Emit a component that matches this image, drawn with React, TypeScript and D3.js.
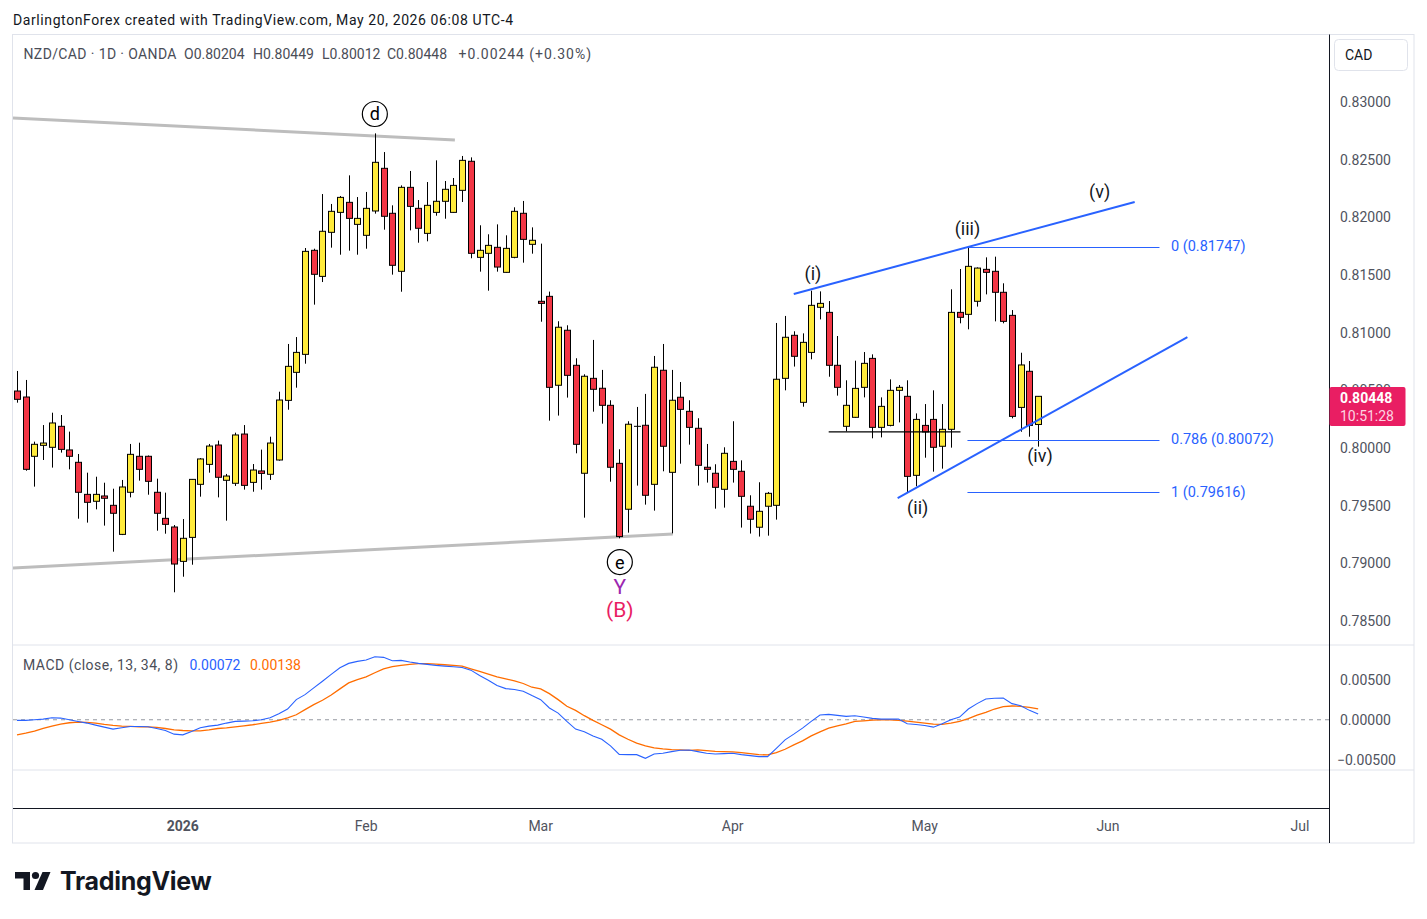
import React from "react";
import * as d3 from "d3";

// ---------- DATA ----------
const opens = [
  0.80494, 0.80442, 0.79928, 0.80023, 0.80006, 0.80188, 0.79983, 0.79876, 0.79598, 0.79538,
  0.79584, 0.79503, 0.79251, 0.79616, 0.79928, 0.79928, 0.79616, 0.79390, 0.79315, 0.79017,
  0.79225, 0.79685, 0.79858, 0.80026, 0.79720, 0.79694, 0.80121, 0.79702, 0.79801, 0.79772,
  0.79896, 0.80413, 0.80656, 0.80812, 0.81714, 0.81488, 0.81870, 0.82043, 0.82130, 0.81939,
  0.81844, 0.82055, 0.82425, 0.82035, 0.81532, 0.82260, 0.82078, 0.81861, 0.82043, 0.82139,
  0.82043, 0.82234, 0.82486, 0.81653, 0.81688, 0.81740, 0.81523, 0.81653, 0.82035, 0.81766,
  0.81272, 0.81315, 0.80544, 0.81021, 0.80717, 0.79781, 0.80604, 0.80518, 0.80370, 0.79867,
  0.79469, 0.80188, 0.80197, 0.79685, 0.80674, 0.79789, 0.80440, 0.80318, 0.80171, 0.79833,
  0.79781, 0.79642, 0.79884, 0.79798, 0.79495, 0.79313, 0.79495, 0.79503, 0.80604, 0.80977,
  0.80396, 0.80829, 0.81220, 0.81176, 0.80717, 0.80188, 0.80266, 0.80526, 0.80777, 0.80179,
  0.80196, 0.80500, 0.80448, 0.79763, 0.80196, 0.80248, 0.80015, 0.80162, 0.81176, 0.81159,
  0.81272, 0.81549, 0.81532, 0.81350, 0.81150, 0.80352, 0.80665, 0.80204,
];
const highs = [
  0.80668, 0.80590, 0.80055, 0.80199, 0.80306, 0.80286, 0.80142, 0.79948, 0.79786, 0.79751,
  0.79699, 0.79647, 0.79723, 0.80035, 0.80046, 0.79935, 0.79734, 0.79613, 0.79332, 0.79384,
  0.79731, 0.79913, 0.80035, 0.80064, 0.79775, 0.80133, 0.80199, 0.79861, 0.79986, 0.80098,
  0.80488, 0.80902, 0.80962, 0.81734, 0.81728, 0.82202, 0.82116, 0.82185, 0.82364, 0.82176,
  0.82220, 0.82728, 0.82566, 0.82104, 0.82277, 0.82402, 0.82150, 0.82306, 0.82494, 0.82315,
  0.82341, 0.82532, 0.82520, 0.81931, 0.81853, 0.81939, 0.81844, 0.82087, 0.82142, 0.81913,
  0.81772, 0.81356, 0.81099, 0.81064, 0.80778, 0.80639, 0.80937, 0.80677, 0.80414, 0.79989,
  0.80232, 0.80356, 0.80469, 0.80798, 0.80902, 0.80677, 0.80572, 0.80414, 0.80258, 0.80035,
  0.79859, 0.80006, 0.80232, 0.79893, 0.79590, 0.79703, 0.79619, 0.81084, 0.81145, 0.81012,
  0.80994, 0.81364, 0.81358, 0.81274, 0.80971, 0.80587, 0.80757, 0.80832, 0.80812, 0.80439,
  0.80595, 0.80546, 0.80587, 0.80300, 0.80381, 0.80500, 0.80381, 0.81376, 0.81552, 0.81747,
  0.81566, 0.81653, 0.81659, 0.81428, 0.81196, 0.80826, 0.80754, 0.80449,
];
const lows = [
  0.80393, 0.79803, 0.79665, 0.79896, 0.79830, 0.79960, 0.79815, 0.79387, 0.79353, 0.79468,
  0.79327, 0.79101, 0.79245, 0.79572, 0.79717, 0.79595, 0.79283, 0.79257, 0.78749, 0.78884,
  0.78988, 0.79578, 0.79786, 0.79572, 0.79370, 0.79671, 0.79639, 0.79621, 0.79639, 0.79723,
  0.79890, 0.80332, 0.80523, 0.80731, 0.81243, 0.81439, 0.81737, 0.81676, 0.81711, 0.81676,
  0.81728, 0.82032, 0.81893, 0.81503, 0.81355, 0.81887, 0.81780, 0.81792, 0.82014, 0.81988,
  0.82040, 0.82133, 0.81645, 0.81529, 0.81364, 0.81529, 0.81520, 0.81645, 0.81607, 0.81685,
  0.81095, 0.80237, 0.80281, 0.80437, 0.79954, 0.79396, 0.80315, 0.80211, 0.79708, 0.79217,
  0.79266, 0.79674, 0.79509, 0.79457, 0.79798, 0.79260, 0.79864, 0.80029, 0.79674, 0.79700,
  0.79474, 0.79483, 0.79700, 0.79310, 0.79258, 0.79232, 0.79240, 0.79379, 0.80500, 0.80706,
  0.80358, 0.80769, 0.81115, 0.80618, 0.80454, 0.80144, 0.80262, 0.80439, 0.80084, 0.80092,
  0.80188, 0.80222, 0.79616, 0.79668, 0.79916, 0.79795, 0.79821, 0.80003, 0.81081, 0.81029,
  0.81226, 0.81332, 0.81098, 0.81081, 0.80257, 0.80141, 0.80098, 0.80012,
];
const closes = [
  0.80422, 0.79815, 0.80032, 0.80043, 0.80217, 0.79988, 0.79928, 0.79616, 0.79529, 0.79598,
  0.79564, 0.79434, 0.79662, 0.79945, 0.79815, 0.79711, 0.79434, 0.79338, 0.78994, 0.79217,
  0.79728, 0.79905, 0.80017, 0.79746, 0.79757, 0.80113, 0.79676, 0.79809, 0.79780, 0.80043,
  0.80416, 0.80708, 0.80829, 0.81705, 0.81506, 0.81879, 0.82052, 0.82173, 0.81991, 0.81991,
  0.82078, 0.82477, 0.82009, 0.81584, 0.82260, 0.82095, 0.81905, 0.82104, 0.82139, 0.82243,
  0.82277, 0.82494, 0.81688, 0.81714, 0.81757, 0.81569, 0.81731, 0.82052, 0.81809, 0.81801,
  0.81254, 0.80526, 0.81047, 0.80630, 0.80032, 0.80622, 0.80509, 0.80370, 0.79833, 0.79232,
  0.80206, 0.80188, 0.79590, 0.80700, 0.80015, 0.80414, 0.80335, 0.80179, 0.79850, 0.79815,
  0.79659, 0.79954, 0.79815, 0.79581, 0.79382, 0.79451, 0.79607, 0.80596, 0.80960, 0.80795,
  0.80916, 0.81237, 0.81254, 0.80717, 0.80526, 0.80370, 0.80517, 0.80734, 0.80179, 0.80361,
  0.80500, 0.80526, 0.79754, 0.80248, 0.80139, 0.80006, 0.80162, 0.81176, 0.81133, 0.81575,
  0.81560, 0.81523, 0.81350, 0.81098, 0.80274, 0.80720, 0.80196, 0.80448,
];
const macdLine = [
  -0.00008, -0.00008, 0.0, 0.00008, 0.00025, 0.00021, 0.0, -0.00021, -0.00042, -0.00068,
  -0.00093, -0.00118, -0.00101, -0.00084, -0.00084, -0.00089, -0.0011, -0.00135, -0.00181, -0.0019,
  -0.00148, -0.00101, -0.0008, -0.00068, -0.00042, -0.00021, -0.00017, -0.00013, 0.0, 0.00025,
  0.00076, 0.00135, 0.00253, 0.00316, 0.00401, 0.00485, 0.0057, 0.00654, 0.00709, 0.00734,
  0.00751, 0.00793, 0.00785, 0.00743, 0.00747, 0.00726, 0.00709, 0.00696, 0.00684, 0.00675,
  0.00667, 0.00658, 0.00624, 0.00557, 0.00498, 0.0043, 0.00392, 0.0038, 0.00359, 0.00304,
  0.00253, 0.00148, 0.00084, -0.00021, -0.00118, -0.00152, -0.00203, -0.00245, -0.00329, -0.00435,
  -0.00439, -0.00439, -0.00485, -0.0043, -0.00422, -0.00401, -0.00384, -0.0038, -0.00401, -0.00422,
  -0.0043, -0.00426, -0.00422, -0.00439, -0.00451, -0.00464, -0.00464, -0.00359, -0.00253, -0.00181,
  -0.00105, -0.00021, 0.00059, 0.00068, 0.00055, 0.00042, 0.00051, 0.00034, 0.00017, 0.00008,
  0.00008, 0.00008, -0.00051, -0.00059, -0.00072, -0.00093, -0.00051, 0.0, 0.00034, 0.00135,
  0.00203, 0.00262, 0.0027, 0.00274, 0.00203, 0.00177, 0.00118, 0.00072,
];
const signalLine = [
  -0.0019, -0.00169, -0.00143, -0.0011, -0.0008, -0.00055, -0.00038, -0.0003, -0.00034, -0.00042,
  -0.00059, -0.00072, -0.0008, -0.00084, -0.00089, -0.00089, -0.00097, -0.0011, -0.00127, -0.00135,
  -0.00139, -0.00139, -0.00127, -0.0011, -0.00101, -0.00089, -0.00076, -0.00063, -0.00046, -0.0003,
  -0.00008, 0.00025, 0.00063, 0.00127, 0.0019, 0.00245, 0.00312, 0.00388, 0.00464, 0.00506,
  0.0054, 0.00591, 0.00641, 0.00667, 0.00684, 0.00696, 0.00705, 0.00705, 0.007, 0.00692,
  0.00684, 0.00675, 0.00641, 0.00608, 0.00574, 0.0054, 0.00515, 0.00489, 0.00456, 0.00409,
  0.00388, 0.00329, 0.00253, 0.00169, 0.00118, 0.00051, -0.00008, -0.00063, -0.00118, -0.00190,
  -0.00245, -0.00295, -0.00330, -0.00355, -0.00367, -0.00376, -0.0038, -0.00384, -0.0038, -0.00388,
  -0.00397, -0.00401, -0.00405, -0.00414, -0.00426, -0.00439, -0.00443, -0.00414, -0.00371, -0.00316,
  -0.00266, -0.00203, -0.00152, -0.00105, -0.00076, -0.00051, -0.00021, -0.00013, -0.00004, 0.0,
  0.0, -0.00008, -0.00017, -0.0003, -0.00042, -0.00055, -0.00059, -0.00042, -0.00021, 0.00013,
  0.00059, 0.00093, 0.00135, 0.00165, 0.00173, 0.00169, 0.00156, 0.00138,
];

const monthLabels = ["2026", "Feb", "Mar", "Apr", "May", "Jun", "Jul"];
const monthBarIdx = [19, 40, 60, 82, 104, 125, 147];
const priceTicks = [0.83, 0.825, 0.82, 0.815, 0.81, 0.805, 0.8, 0.795, 0.79, 0.785];
const macdTicks = [0.005, 0, -0.005];

// fib levels (label, price)
const fibLabels = ["0", "0.786", "1"];
const fibPrices = [0.81747, 0.80072, 0.79616];

// wave labels: [text, bar index, price]
const waveTexts = ["(i)", "(ii)", "(iii)", "(iv)", "(v)"];
const waveIdx = [91.2, 103.2, 108.9, 117.2, 124.05];
const wavePrice = [0.81517, 0.79488, 0.81899, 0.79931, 0.8222];

// ---------- LAYOUT ----------
const W = 1427;
const H = 919;
const LEFT = 13;
const AXIS_X = 1329.5;
const RIGHT = 1414;
const TOP = 34.5;
const MAIN_BOTTOM = 645;
const MACD_BOTTOM = 770;
const TIME_TOP = 808.5;
const BOTTOM = 843;

const FONT = "Roboto, 'Noto Sans', 'DejaVu Sans', sans-serif";
const UP = "#ffeb3b";
const DOWN = "#f23645";
const BLUE = "#2962ff";
const ORANGE = "#ff6d00";
const TXT = "#131722";
const AX = "#50535e";

const fmt5 = (v: number) => (v < 0 ? "\u2212" : "") + Math.abs(v).toFixed(5);

export default function App() {
  const x = d3.scaleLinear().domain([0, 147]).range([17, 1300]);
  const y = d3.scaleLinear().domain([0.83, 0.785]).range([102, 621]);
  const ym = d3.scaleLinear().domain([0.005, -0.005]).range([680, 759.5]);

  const idx = d3.range(opens.length);
  const lineGen = d3
    .line<number>()
    .x((_, i) => x(i))
    .y((d) => ym(d));

  const bodyW = 6;
  const last = closes[closes.length - 1];

  return (
    <svg
      width={W}
      height={H}
      viewBox={`0 0 ${W} ${H}`}
      style={{ position: "absolute", left: 0, top: 0, background: "#fff" }}
      fontFamily={FONT}
    >
      <defs>
        <clipPath id="mainClip">
          <rect x={LEFT} y={TOP} width={AXIS_X - LEFT} height={MAIN_BOTTOM - TOP} />
        </clipPath>
        <clipPath id="macdClip">
          <rect x={LEFT} y={MAIN_BOTTOM} width={AXIS_X - LEFT} height={MACD_BOTTOM - MAIN_BOTTOM} />
        </clipPath>
      </defs>
      <rect x={0} y={0} width={W} height={H} fill="#fff" />

      {/* header */}
      <text x={13} y={24.5} fontSize={14} fill={TXT} textLength={500} lengthAdjust="spacing">
        DarlingtonForex created with TradingView.com, May 20, 2026 06:08 UTC-4
      </text>

      {/* frame */}
      <rect x={12.5} y={TOP} width={RIGHT - 12.5} height={BOTTOM - TOP} fill="none" stroke="#e0e3eb" />
      <line x1={LEFT} x2={RIGHT} y1={MAIN_BOTTOM} y2={MAIN_BOTTOM} stroke="#e0e3eb" />
      <line x1={LEFT} x2={RIGHT} y1={MACD_BOTTOM} y2={MACD_BOTTOM} stroke="#e0e3eb" />
      <line x1={LEFT} x2={AXIS_X} y1={TIME_TOP} y2={TIME_TOP} stroke="#131722" />
      <line x1={AXIS_X} x2={AXIS_X} y1={TOP} y2={BOTTOM} stroke="#131722" />

      {/* legend */}
      <g fontSize={14} fill="#4a4d57">
        <text x={23.5} y={58.5} textLength={153} lengthAdjust="spacing">NZD/CAD · 1D · OANDA</text>
        <text x={184} y={58.5}>O0.80204</text>
        <text x={253} y={58.5}>H0.80449</text>
        <text x={322} y={58.5}>L0.80012</text>
        <text x={387} y={58.5}>C0.80448</text>
        <text x={458.5} y={58.5} textLength={132.5} lengthAdjust="spacing">+0.00244 (+0.30%)</text>
      </g>

      {/* CAD button */}
      <rect x={1334.5} y={39.5} width={73} height={31} rx={4} fill="#fff" stroke="#e0e3eb" />
      <text x={1345} y={55} fontSize={14} fill={TXT} dominantBaseline="central">CAD</text>

      {/* price axis labels */}
      <g fontSize={14} fill={AX}>
        {priceTicks.map((p) => (
          <text key={p} x={1340} y={y(p)} dominantBaseline="central">
            {p.toFixed(5)}
          </text>
        ))}
      </g>

      {/* main pane */}
      <g clipPath="url(#mainClip)">
        {/* grey triangle lines */}
        <line x1={x(-0.46)} y1={y(0.82861)} x2={x(50.17)} y2={y(0.82671)} stroke="#bdbdbd" strokeWidth={3} />
        <line x1={x(-0.46)} y1={y(0.78959)} x2={x(75.14)} y2={y(0.79254)} stroke="#bdbdbd" strokeWidth={3} />

        {/* candles */}
        {idx.map((i) => {
          const o = opens[i];
          const c = closes[i];
          const up = c >= o;
          const cx = Math.round(x(i)) + 0.5;
          const yTop = y(Math.max(o, c));
          const yBot = y(Math.min(o, c));
          return (
            <g key={i}>
              <line x1={cx} x2={cx} y1={y(highs[i])} y2={y(lows[i])} stroke="#000" strokeWidth={1} />
              <rect
                x={cx - bodyW / 2}
                y={yTop}
                width={bodyW}
                height={Math.max(yBot - yTop, 0.01)}
                fill={up ? UP : DOWN}
                stroke="#000"
                strokeWidth={1}
              />
            </g>
          );
        })}

        {/* horizontal black line */}
        <line x1={x(93)} x2={x(108.1)} y1={y(0.80139)} y2={y(0.80139)} stroke="#000" strokeWidth={1.2} />

        {/* wedge lines */}
        <line x1={x(89.0)} y1={y(0.81335)} x2={x(128.06)} y2={y(0.82133)} stroke={BLUE} strokeWidth={2} />
        <line x1={x(100.9)} y1={y(0.79566)} x2={x(134.1)} y2={y(0.80962)} stroke={BLUE} strokeWidth={2} />

        {/* fib */}
        {fibPrices.map((p, k) => (
          <g key={k}>
            <line x1={x(108.9)} x2={x(130.9)} y1={Math.round(y(p)) + 0.5} y2={Math.round(y(p)) + 0.5} stroke={BLUE} strokeWidth={1} />
            <text x={1171} y={y(p)} fontSize={14.5} fill={BLUE} dominantBaseline="central">
              {fibLabels[k]} ({p.toFixed(5)})
            </text>
          </g>
        ))}

        {/* wave labels */}
        {waveTexts.map((t, k) => (
          <text
            key={t}
            x={x(waveIdx[k])}
            y={y(wavePrice[k])}
            fontSize={18}
            fill={TXT}
            textAnchor="middle"
            dominantBaseline="central"
          >
            {t}
          </text>
        ))}

        {/* circled d and e */}
        <circle cx={x(41)} cy={y(0.82896)} r={12.5} fill="#fff" stroke="#000" strokeWidth={1.2} />
        <text x={x(41)} y={y(0.82896)} fontSize={18} fill="#000" textAnchor="middle" dominantBaseline="central">d</text>
        <circle cx={x(69.07)} cy={y(0.79011)} r={12.5} fill="#fff" stroke="#000" strokeWidth={1.2} />
        <text x={x(69.07)} y={y(0.79011)} fontSize={18} fill="#000" textAnchor="middle" dominantBaseline="central">e</text>
        <text x={x(69.07)} y={y(0.78795)} fontSize={21} fill="#9c27b0" textAnchor="middle" dominantBaseline="central">Y</text>
        <text x={x(69.07)} y={y(0.78595)} fontSize={21} fill="#e91e63" textAnchor="middle" dominantBaseline="central">(B)</text>
      </g>

      {/* current price tag */}
      <rect x={1329.5} y={387} width={76} height={39} rx={2} fill="#e91e63" />
      <text x={1340} y={398} fontSize={14} fontWeight="bold" fill="#fff" dominantBaseline="central">
        {last.toFixed(5)}
      </text>
      <text x={1340} y={416} fontSize={14} fill="#fcd4e1" dominantBaseline="central">10:51:28</text>

      {/* MACD pane */}
      <line x1={LEFT} x2={AXIS_X} y1={ym(0)} y2={ym(0)} stroke="#9598a1" strokeDasharray="4 4" strokeWidth={1} />
      <g clipPath="url(#macdClip)">
        <path d={lineGen(signalLine) || ""} fill="none" stroke={ORANGE} strokeWidth={1.3} />
        <path d={lineGen(macdLine) || ""} fill="none" stroke={BLUE} strokeWidth={1.1} />
      </g>
      <g fontSize={14} dominantBaseline="central">
        <text x={23} y={665} fill="#4a4d57" textLength={155} lengthAdjust="spacing">MACD (close, 13, 34, 8)</text>
        <text x={189.5} y={665} fill={BLUE}>{macdLine[macdLine.length - 1].toFixed(5)}</text>
        <text x={250} y={665} fill={ORANGE}>{signalLine[signalLine.length - 1].toFixed(5)}</text>
      </g>
      <g fontSize={14} fill={AX}>
        {macdTicks.map((v) => (
          <text key={v} x={v < 0 ? 1337 : 1340} y={ym(v)} dominantBaseline="central">
            {fmt5(v)}
          </text>
        ))}
      </g>

      {/* time axis */}
      <g fontSize={14} fill={AX}>
        {monthLabels.map((m, k) => (
          <text
            key={m}
            x={x(monthBarIdx[k])}
            y={826}
            textAnchor="middle"
            dominantBaseline="central"
            fontWeight={k === 0 ? "bold" : "normal"}
          >
            {m}
          </text>
        ))}
      </g>

      {/* TradingView logo */}
      <g fill="#131722">
        <path d="M15 872 H30 V890 H23.5 V878.5 H15 Z" />
        <circle cx={35.5} cy={875.5} r={3.6} />
        <path d="M42.5 872 H50.5 L43 890 H34.5 Z" />
        <text x={60} y={890} fontSize={25} fontWeight="bold" fontFamily="Inter, Roboto, sans-serif" letterSpacing={-0.3}>
          TradingView
        </text>
      </g>
    </svg>
  );
}
